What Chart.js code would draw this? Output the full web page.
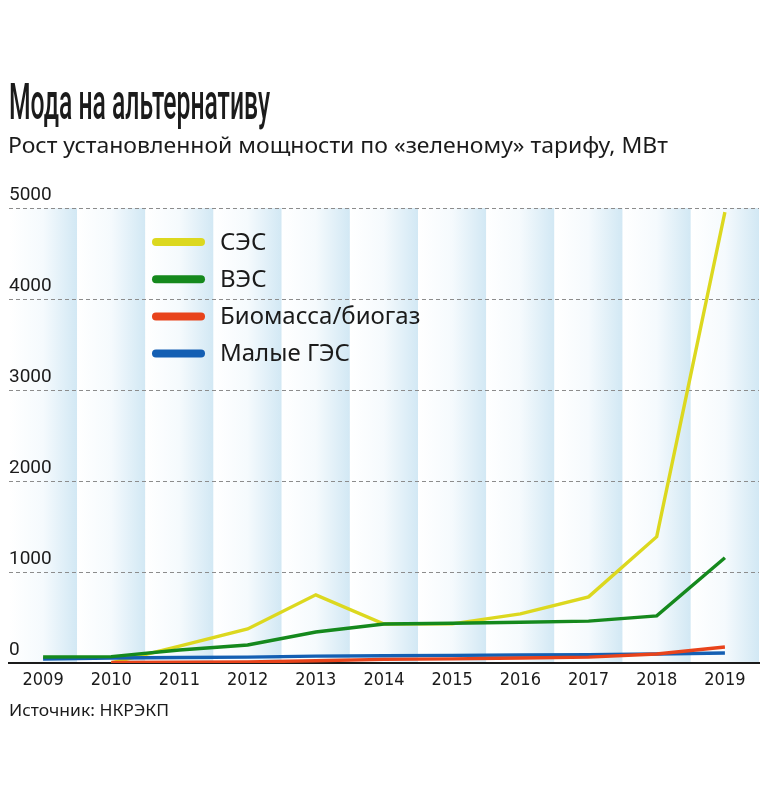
<!DOCTYPE html>
<html>
<head>
<meta charset="utf-8">
<script src="https://cdn.jsdelivr.net/npm/chart.js@4.4.1/dist/chart.umd.min.js"></script>
<style>
html,body{margin:0;padding:0;background:#fff;width:764px;height:796px;overflow:hidden;}
#wrap{position:absolute;left:0;top:0;width:764px;height:796px;}
.txt{position:absolute;white-space:nowrap;color:#1b1b1b;transform-origin:0 0;}
#title{left:9px;top:77px;font:500 50px/50px Roboto, sans-serif;}
#subtitle{left:8px;top:135px;font:400 21px/21px "Noto Sans", sans-serif;}
#source{left:9px;top:701px;font:400 17px/17px "Noto Sans", sans-serif;}
</style>
</head>
<body>
<div id="wrap"><canvas id="c"></canvas></div>
<div id="title" class="txt" data-w="261">Мода на альтернативу</div>
<div id="subtitle" class="txt" data-w="660">Рост установленной мощности по «зеленому» тарифу, МВт</div>
<div id="source" class="txt" data-w="160">Источник: НКРЭКП</div>
<script>
// ---- data ----
const years = ['2009','2010','2011','2012','2013','2014','2015','2016','2017','2018','2019'];
const sesValues   = [null, 0, 185, 374, 749, 428, 430, 540, 727, 1388, 4955];
const vesValues   = [66, 70, 143, 198, 341, 428, 436, 448, 460, 518, 1156];
const bioValues   = [null, 5, 8, 12, 25, 40, 45, 55, 65, 99, 176];
const hydroValues = [44, 55, 60, 65, 75, 80, 84, 88, 92, 99, 110];
const seriesLabels = ['СЭС', 'ВЭС', 'Биомасса/биогаз', 'Малые ГЭС'];
const yTickValues = [0, 1000, 2000, 3000, 4000, 5000];

// ---- fit text widths ----
function fitTexts(){
  document.querySelectorAll('.txt').forEach(el=>{
    el.style.transform='none';
    const w = el.getBoundingClientRect().width;
    const t = parseFloat(el.dataset.w);
    if (w>0) el.style.transform = 'scaleX(' + (t/w) + ')';
  });
}
fitTexts();
if (document.fonts && document.fonts.ready) document.fonts.ready.then(fitTexts);

const TEXT = '#1b1b1b';

const bandsPlugin = {
  id: 'bands',
  beforeDraw(chart){
    const {ctx, chartArea} = chart;
    const xs = chart.scales.x;
    const half = (xs.getPixelForValue(1) - xs.getPixelForValue(0)) / 2;
    ctx.save();
    for (let i = 0; i < years.length; i++){
      const c = xs.getPixelForValue(i);
      const l = c - half, r = c + half;
      const g = ctx.createLinearGradient(l, 0, r, 0);
      g.addColorStop(0, 'rgba(255,255,255,1)');
      g.addColorStop(0.5, '#f5fafd');
      g.addColorStop(1, '#d2e8f4');
      ctx.fillStyle = g;
      ctx.fillRect(l, chartArea.top, r - l, chartArea.bottom - chartArea.top);
    }
    ctx.restore();
  }
};

const legendPlugin = {
  id: 'inlineLegend',
  afterDatasetsDraw(chart){
    const ctx = chart.ctx;
    ctx.save();
    chart.data.datasets.forEach((ds, i) => {
      const y = 242 + i * 37.2;
      ctx.strokeStyle = ds.borderColor;
      ctx.lineWidth = 8;
      ctx.lineCap = 'round';
      ctx.beginPath(); ctx.moveTo(156, y); ctx.lineTo(201, y); ctx.stroke();
      ctx.fillStyle = TEXT;
      ctx.font = '400 24px "Noto Sans", sans-serif';
      ctx.textBaseline = 'middle';
      ctx.textAlign = 'left';
      ctx.fillText(ds.label, 220, y + 1);
    });
    ctx.restore();
  }
};

function ds(label, data, color, order){
  return { label, data, borderColor: color, backgroundColor: color, borderWidth: 3.4,
           pointRadius: 0, pointHoverRadius: 0, tension: 0, fill: false, order,
           borderJoinStyle: 'miter', spanGaps: false };
}

new Chart(document.getElementById('c'), {
  type: 'line',
  data: {
    labels: years,
    datasets: [
      ds(seriesLabels[0], sesValues,   '#dcd81f', 3),
      ds(seriesLabels[1], vesValues,   '#15891d', 0),
      ds(seriesLabels[2], bioValues,   '#e8431b', 1),
      ds(seriesLabels[3], hydroValues, '#145fb3', 2)
    ]
  },
  options: {
    responsive: true,
    maintainAspectRatio: false,
    animation: false,
    events: [],
    layout: { padding: { left: 9, right: 5, top: 208, bottom: 103 } },
    plugins: { legend: { display: false }, tooltip: { enabled: false }, title: { display: false } },
    scales: {
      x: {
        type: 'category',
        offset: true,
        grid: { display: false, drawTicks: false },
        border: { display: true, color: '#1b1b1b', width: 2 },
        ticks: { color: TEXT, padding: 7, maxRotation: 0, autoSkip: false,
                 font: { family: '"Liberation Sans Narrow", "DejaVu Sans Condensed", Roboto, sans-serif', size: 18 } },
        afterFit(s){ s.height = 30; }
      },
      y: {
        min: 0, max: 5000,
        afterBuildTicks(s){ s.ticks = yTickValues.map(v => ({ value: v })); },
        grid: { drawTicks: false, lineWidth: 1,
                color: c => (c.tick && c.tick.value === 0) ? 'rgba(0,0,0,0)' : '#8c8c8c' },
        border: { display: false, dash: [4, 3] },
        ticks: { mirror: true, padding: 0, labelOffset: -13, color: TEXT,
                 callback: v => String(v),
                 font: { family: 'Roboto, sans-serif', size: 19 } },
        afterFit(s){ s.width = 0; }
      }
    }
  },
  plugins: [bandsPlugin, legendPlugin]
});
</script>
</body>
</html>
